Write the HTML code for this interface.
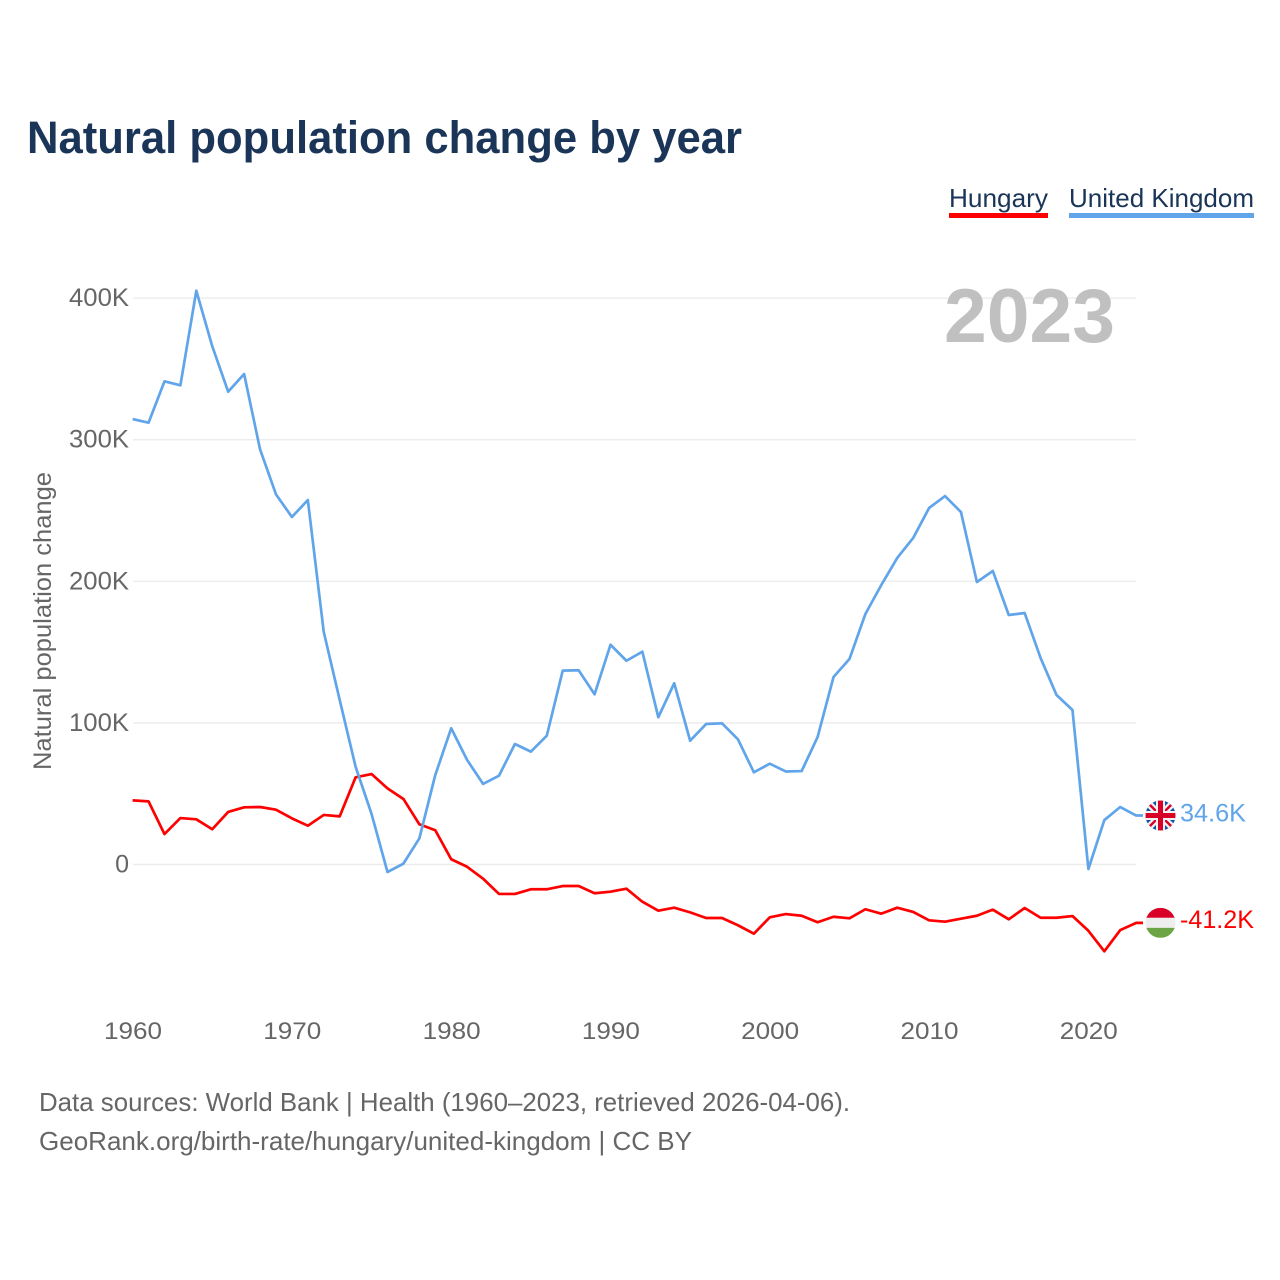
<!DOCTYPE html>
<html lang="en">
<head>
<meta charset="utf-8">
<title>Natural population change by year</title>
<style>
  html, body { margin: 0; padding: 0; background: #fff; }
  svg { display: block; }
  text { font-family: "Liberation Sans", sans-serif; }
</style>
</head>
<body>
<svg id="chart" width="1280" height="1280" viewBox="0 0 1280 1280" xmlns="http://www.w3.org/2000/svg">
  <defs>
    <clipPath id="uk-clip"><circle cx="0" cy="0" r="15"></circle></clipPath>
    <clipPath id="hu-clip"><circle cx="0" cy="0" r="15"></circle></clipPath>
  </defs>
  <rect width="1280" height="1280" fill="#fff"></rect>
  <text x="27" y="153" font-size="45" font-weight="700" fill="#1a3557" textLength="715" lengthAdjust="spacingAndGlyphs">Natural population change by year</text>

  <g>
    <text x="949" y="207" font-size="26" fill="#1a3557" textLength="99" lengthAdjust="spacingAndGlyphs">Hungary</text>
    <rect x="949" y="213" width="99" height="5" fill="#ff0000"></rect>
  </g>
  <g>
    <text x="1069" y="207" font-size="26" fill="#1a3557" textLength="185" lengthAdjust="spacingAndGlyphs">United Kingdom</text>
    <rect x="1069" y="213" width="185" height="5" fill="#60a5ea"></rect>
  </g>

  <g id="grid"></g>
  <g id="y-ticks"></g>
  <g id="x-ticks"></g>

  <text x="944" y="342" font-size="76" font-weight="700" fill="#c0c0c0" textLength="171" lengthAdjust="spacingAndGlyphs">2023</text>
  <text transform="translate(51 621) rotate(-90)" text-anchor="middle" font-size="25" fill="#666666" textLength="298" lengthAdjust="spacingAndGlyphs">Natural population change</text>

  <g id="series"></g>

  <g id="flag-uk">
    <g clip-path="url(#uk-clip)">
      <rect x="-15" y="-15" width="30" height="30" fill="#0b52a8"></rect>
      <path d="M-15 -15L15 15M15 -15L-15 15" stroke="#f2f2f2" stroke-width="7"></path>
      <path d="M-15 -15L15 15M15 -15L-15 15" stroke="#d80027" stroke-width="2.4"></path>
      <rect x="-15" y="-4.5" width="30" height="9" fill="#f2f2f2"></rect>
      <rect x="-4.5" y="-15" width="9" height="30" fill="#f2f2f2"></rect>
      <rect x="-15" y="-2.5" width="30" height="5" fill="#d80027"></rect>
      <rect x="-2.5" y="-15" width="5" height="30" fill="#d80027"></rect>
    </g>
  </g>
  <g id="flag-hu">
    <g clip-path="url(#hu-clip)">
      <rect x="-15" y="-15" width="30" height="10" fill="#d80027"></rect>
      <rect x="-15" y="-5" width="30" height="10" fill="#eeeeee"></rect>
      <rect x="-15" y="5" width="30" height="10" fill="#6da544"></rect>
    </g>
  </g>

  <text id="label-uk" x="1180" font-size="25" fill="#60a5ea" textLength="66" lengthAdjust="spacingAndGlyphs"></text>
  <text id="label-hu" x="1180" font-size="25" fill="#ff0000" textLength="74" lengthAdjust="spacingAndGlyphs"></text>

  <text x="39" y="1111" font-size="26" fill="#666666" textLength="811" lengthAdjust="spacingAndGlyphs">Data sources: World Bank | Health (1960–2023, retrieved 2026-04-06).</text>
  <text x="39" y="1150" font-size="26" fill="#666666" textLength="653" lengthAdjust="spacingAndGlyphs">GeoRank.org/birth-rate/hungary/united-kingdom | CC BY</text>
</svg>
<script>
const startYear = 1960;
const yTickValues = [0, 100, 200, 300, 400];
const yTickLabels = ["0", "100K", "200K", "300K", "400K"];
const xTickYears = [1960, 1970, 1980, 1990, 2000, 2010, 2020];
const ukValues = [
  314.6, 312, 341.2, 338.4, 405.2, 366, 333.9, 346.4, 293.2, 261.4,
  245.4, 257.4, 164.2, 116.2, 69, 35.7, -5.3, 0.6, 18.4, 63.2,
  96.2, 73.8, 56.9, 62.7, 85.1, 79.7, 91, 136.9, 137.2, 120.2,
  155.2, 143.9, 150.3, 104, 128, 87.4, 99.2, 99.7, 88.4, 65.1,
  71.2, 65.7, 66, 90, 132.4, 145.1, 176.9, 197.4, 216.5, 230.6,
  251.8, 260.2, 248.9, 199.5, 207.3, 176.2, 177.6, 145.8, 119.7, 109.1,
  -3.2, 31.4, 40.6, 34.6
];
const huValues = [
  45.3, 44.6, 21.5, 32.8, 31.9, 24.9, 37.1, 40.4, 40.6, 38.7,
  32.6, 27.4, 35, 34, 61.6, 63.9, 53.8, 46.3, 28.4, 24.2,
  3.7, -1.6, -10, -20.8, -20.8, -17.5, -17.5, -15.2, -15.2, -20.3,
  -19.2, -17.1, -26.3, -32.6, -30.5, -33.8, -37.8, -37.8, -42.9, -48.9,
  -37.3, -35, -36.2, -40.8, -36.9, -38, -31.6, -34.7, -30.5, -33.5,
  -39.4, -40.4, -38.3, -36.2, -31.9, -38.7, -30.7, -37.6, -37.6, -36.4,
  -46.8, -61.3, -46.3, -41.2
];
const ukEndLabel = "34.6K";
const huEndLabel = "-41.2K";

const NS = "http://www.w3.org/2000/svg";
function xScale(year) { return 132.6 + (year - 1960) * 15.93; }
function yScale(v) { return 864.5 - v * 1.416; }

function makeEl(tag, parentId) {
  const el = document.createElementNS(NS, tag);
  document.getElementById(parentId).appendChild(el);
  return el;
}

yTickValues.forEach(function (v, i) {
  const line = makeEl("line", "grid");
  
  
  line.setAttribute("x1", 133);
  line.setAttribute("x2", 1136);
  line.setAttribute("y1", yScale(v));
  line.setAttribute("y2", yScale(v));
  line.setAttribute("stroke", "#ececec");
  line.setAttribute("stroke-width", "1.4");

  const label = makeEl("text", "y-ticks");
  
  
  label.setAttribute("x", 129);
  label.setAttribute("y", yScale(v) + 8);
  label.setAttribute("text-anchor", "end");
  label.setAttribute("font-size", "25");
  label.setAttribute("fill", "#666666");
  if (yTickLabels[i].length > 1) {
    label.setAttribute("textLength", "60");
    label.setAttribute("lengthAdjust", "spacingAndGlyphs");
  }
  label.textContent = yTickLabels[i];
});

xTickYears.forEach(function (year) {
  const label = makeEl("text", "x-ticks");
  
  
  label.setAttribute("x", xScale(year) + 0.4);
  label.setAttribute("y", 1039);
  label.setAttribute("text-anchor", "middle");
  label.setAttribute("font-size", "24");
  label.setAttribute("fill", "#666666");
  label.setAttribute("textLength", "58");
  label.setAttribute("lengthAdjust", "spacingAndGlyphs");
  label.textContent = String(year);
});

function linePoints(values) {
  const pts = values.map(function (v, i) {
    return xScale(startYear + i).toFixed(2) + "," + yScale(v).toFixed(2);
  });
  pts.push("1143," + yScale(values[values.length - 1]).toFixed(2));
  return pts.join(" ");
}

const huLine = makeEl("polyline", "series");


huLine.setAttribute("points", linePoints(huValues));
huLine.setAttribute("fill", "none");
huLine.setAttribute("stroke", "#ff0000");
huLine.setAttribute("stroke-width", "2.7");
huLine.setAttribute("stroke-linejoin", "round");

const ukLine = makeEl("polyline", "series");


ukLine.setAttribute("points", linePoints(ukValues));
ukLine.setAttribute("fill", "none");
ukLine.setAttribute("stroke", "#60a5ea");
ukLine.setAttribute("stroke-width", "2.7");
ukLine.setAttribute("stroke-linejoin", "round");

const ukY = yScale(ukValues[ukValues.length - 1]);
const huY = yScale(huValues[huValues.length - 1]);
document.getElementById("flag-uk").setAttribute("transform", "translate(1160.5 " + ukY + ")");
document.getElementById("flag-hu").setAttribute("transform", "translate(1160.5 " + huY + ")");
const ukLabel = document.getElementById("label-uk");
ukLabel.setAttribute("y", ukY + 6);
ukLabel.textContent = ukEndLabel;
const huLabel = document.getElementById("label-hu");
huLabel.setAttribute("y", huY + 5);
huLabel.textContent = huEndLabel;
</script>
</body>
</html>
